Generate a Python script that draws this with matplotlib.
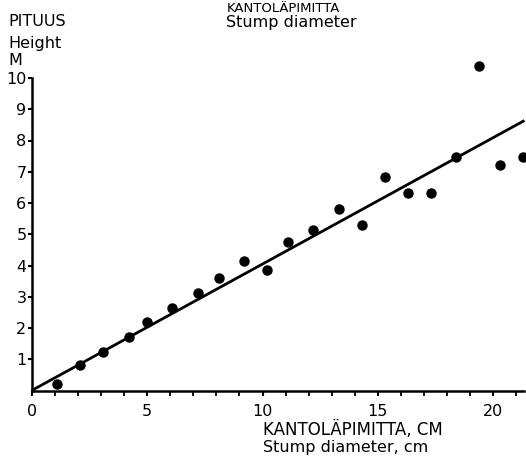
import matplotlib
matplotlib.use("Agg")
import matplotlib.pyplot as plt

# data
diameter = [1.1, 2.1, 3.1, 4.2, 5.0, 6.1, 7.2, 8.1, 9.2, 10.2, 11.1,
            12.2, 13.3, 14.3, 15.3, 16.3, 17.3, 18.4, 19.4, 20.3, 21.3]
height = [0.21, 0.82, 1.24, 1.72, 2.2, 2.64, 3.13, 3.6, 4.14, 3.86, 4.75,
          5.14, 5.82, 5.3, 6.83, 6.33, 6.33, 7.48, 10.4, 7.22, 7.46]
fit_x = [0, 21.35]
fit_y = [0, 8.64]
x_ticks = [0, 5, 10, 15, 20]
y_ticks = [1, 2, 3, 4, 5, 6, 7, 8, 9, 10]

W, H = 526, 459
fig = plt.figure(figsize=(W / 100, H / 100), dpi=100)
plt.rcParams['font.family'] = ['DejaVu Sans']

x0, x1 = 31.7, 524.0
y0, y1 = 390.5, 78.0
ax = fig.add_axes([x0 / W, 1 - y0 / H, (x1 - x0) / W, (y0 - y1) / H])
ax.set_xlim(0, 21.33)
ax.set_ylim(0, 10)

ax.plot(fit_x, fit_y, color='black', lw=2.0, solid_capstyle='butt', clip_on=False)
ax.plot(diameter, height, 'o', color='black', ms=6.5, clip_on=False)

for s in ['top', 'right']:
    ax.spines[s].set_visible(False)
for s in ['left', 'bottom']:
    ax.spines[s].set_linewidth(1.8)

ax.set_xticks(x_ticks)
ax.set_xticks(range(0, 22), minor=True)
ax.set_yticks(y_ticks)
ax.tick_params(axis='both', which='major', width=1.5, labelsize=11.5)
ax.tick_params(axis='x', which='major', length=3.5, pad=6.5)
ax.tick_params(axis='x', which='minor', length=3.5, width=1.3)
ax.tick_params(axis='y', which='major', length=3, pad=0.8)


def ftext(x, y, s, fs=11.5):
    fig.text(x / W, 1 - y / H, s, fontsize=fs, color='black', va='baseline')


ftext(227, 12, "KANTOLÄPIMITTA", fs=9.5)
ftext(226, 26.5, "Stump diameter")
ftext(8, 26, "PITUUS")
ftext(8, 48, "Height")
ftext(8, 65, "M")
ftext(263, 435, "KANTOLÄPIMITTA, CM", fs=12)
ftext(263, 452, "Stump diameter, cm")

fig.savefig("out.png", dpi=100)
